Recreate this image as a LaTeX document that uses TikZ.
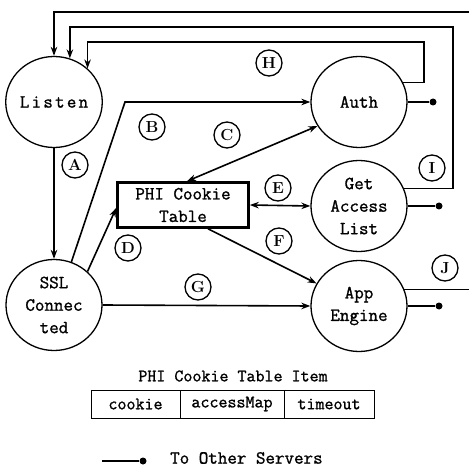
\documentclass[tikz,border=0pt]{standalone}
\usepackage{fontspec}
\setmonofont{Latin Modern Mono}[FakeBold=1.2]
\usetikzlibrary{shapes.geometric,arrows.meta}

\tikzset{
  proc/.style={ellipse, draw, line width=1.3pt, minimum width=96pt, minimum height=91pt,
    inner sep=0pt, align=center, font=\ttfamily\fontsize{18.5}{22.5}\selectfont},
  tablebox/.style={draw, line width=2.6pt, minimum width=131pt, minimum height=45pt,
    inner sep=0pt, align=center, font=\ttfamily\fontsize{18.5}{22.5}\selectfont},
  tag/.style={circle, draw, line width=1.3pt, minimum size=26pt, inner sep=0pt,
    font=\bfseries\fontsize{16}{16}\selectfont},
  cell/.style={draw, line width=1pt, minimum height=28pt, inner sep=0pt,
    font=\ttfamily\fontsize{17.5}{20}\selectfont},
  plain/.style={inner sep=0pt, font=\ttfamily\fontsize{17.5}{20}\selectfont},
  wire/.style={line width=1.6pt},
  flow/.style={wire, -{Stealth[length=9pt,width=6.5pt]}},
  both/.style={wire, {Stealth[length=9pt,width=6.5pt]}-{Stealth[length=9pt,width=6.5pt]}},
  tip/.style={circle, fill, inner sep=0pt, minimum size=7pt},
}

\begin{document}
\begin{tikzpicture}[x=1pt,y=-1pt]
\useasboundingbox (0,0) rectangle (469,468);

% processes
\node[proc] (listen) at (54,102) {\addfontfeature{LetterSpace=12}Listen};
\node[proc] (auth) at (359,102) {Auth};
\node[proc] (gal) at (359,206) {Get\\Access\\List};
\node[proc] (ssl) at (54,305) {SSL\\Connec\\ted};
\node[proc] (app) at (359,306) {App\\Engine};
\node[tablebox] (phi) at (183,205) {PHI Cookie\\Table};

% routing points
\coordinate (bk) at (125,102);
\coordinate (hR) at (424,42);
\coordinate (iR) at (453,27);
\coordinate (outR) at (469,12);

% transitions
\draw[flow] (listen) -- (ssl);
\draw[flow] (ssl.68) -- (bk) -- (auth.west);
\draw[both] (auth.210) -- ([xshift=4pt]phi.north);
\draw[flow] (ssl.45) -- ([yshift=-3pt]phi.west);
\draw[both] (phi.east) -- (gal.west);
\draw[flow] ([xshift=25pt]phi.south) -- (app.152);
\draw[flow] (ssl.east) -- (app.west);
\draw[flow] (auth.24) -| (hR) -| (listen.45);
\draw[flow] (gal.21) -| (iR) -| (listen.70);
\draw[flow] (outR) -| (listen.north);
\draw[wire] (app.20) -- (app.20 -| outR);

% links to other servers
\node[tip] (d1) at (433,102) {};
\node[tip] (d2) at (439,206) {};
\node[tip] (d3) at (439,306) {};
\draw[wire] (auth.east) -- (d1);
\draw[wire] (gal.east) -- (d2);
\draw[wire] (app.east) -- (d3);

% labels
\node[tag] (tA) at (75,165) {A};
\node[tag] (tB) at (152,127) {B};
\node[tag] (tC) at (227,135) {C};
\node[tag] (tD) at (128,248) {D};
\node[tag] (tE) at (278,188) {E};
\node[tag] (tF) at (279,241) {F};
\node[tag] (tG) at (198,287) {G};
\node[tag] (tH) at (269,63) {H};
\node[tag] (tI) at (432,168) {I};
\node[tag] (tJ) at (445,268) {J};

% table item layout
\node[plain] (itemtitle) at (233,376) {PHI Cookie Table Item};
\node[cell, minimum width=89pt] (c1) at (135.5,404) {cookie};
\node[cell, minimum width=104pt] (c2) at (232,404) {accessMap};
\node[cell, minimum width=90pt] (c3) at (329,404) {timeout};

% legend
\coordinate (ls) at (102,461);
\node[tip] (ld) at (143,461) {};
\draw[wire] (ls) -- (ld);
\node[plain, anchor=west, font=\ttfamily\fontsize{18.5}{20}\selectfont] (legend) at (170,458) {To Other Servers};
\end{tikzpicture}
\end{document}
